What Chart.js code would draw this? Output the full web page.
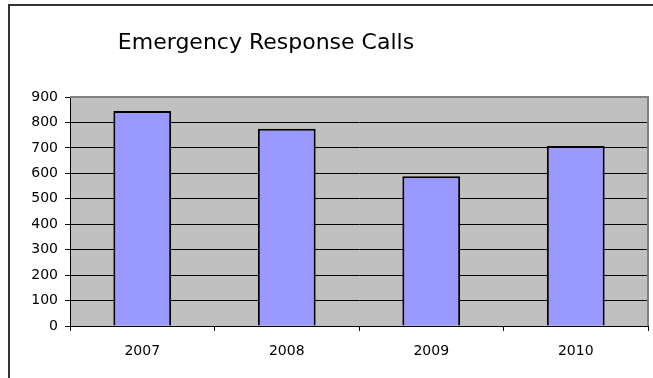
<!DOCTYPE html>
<html>
<head>
<meta charset="utf-8">
<script src="https://cdn.jsdelivr.net/npm/chart.js@4/dist/chart.umd.min.js"></script>
<style>
    html, body { margin: 0; padding: 0; background: #fff; }
    #wrap { width: 653px; height: 378px; position: relative; }
</style>
</head>
<body>
<div id="wrap"><canvas id="chart"></canvas></div>
<script>
// Chart data
const chartTitle = 'Emergency Response Calls';
const years = ['2007', '2008', '2009', '2010'];
const calls = [845, 775, 589, 707];
const yTicks = [0, 100, 200, 300, 400, 500, 600, 700, 800, 900];

const fontFamily = '"DejaVu Sans", "Liberation Sans", Arial, sans-serif';

// Grey plot area, its border, the outer frame and the title
const excelFrame = {
    id: 'excelFrame',
    beforeDraw(chart) {
        const { ctx, chartArea: a } = chart;
        ctx.save();
        ctx.fillStyle = '#c0c0c0';
        ctx.fillRect(a.left, a.top, a.right - a.left, a.bottom - a.top);
        ctx.restore();
    },
    afterDraw(chart) {
        const { ctx, chartArea: a } = chart;
        ctx.save();
        // plot area top / right border
        ctx.strokeStyle = '#808080';
        ctx.lineWidth = 2;
        ctx.beginPath();
        ctx.moveTo(a.left, a.top);
        ctx.lineTo(a.right, a.top);
        ctx.lineTo(a.right, a.bottom);
        ctx.stroke();
        // outer chart frame
        ctx.strokeStyle = '#333';
        ctx.lineWidth = 2;
        ctx.beginPath();
        ctx.moveTo(9, 378);
        ctx.lineTo(9, 5);
        ctx.lineTo(653, 5);
        ctx.stroke();
        // title
        ctx.fillStyle = '#000';
        ctx.font = '22px ' + fontFamily;
        ctx.textAlign = 'center';
        ctx.textBaseline = 'alphabetic';
        ctx.fillText(chartTitle, 266, 49);
        ctx.restore();
    }
};

const ctx = document.getElementById('chart').getContext('2d');
new Chart(ctx, {
    type: 'bar',
    data: {
        labels: years,
        datasets: [{
            label: 'Calls',
            data: calls,
            backgroundColor: '#9999ff',
            borderColor: '#000',
            borderWidth: 2,
            categoryPercentage: 0.8,
            barPercentage: 0.5
        }]
    },
    options: {
        responsive: true,
        maintainAspectRatio: false,
        animation: false,
        layout: {
            padding: { top: 97, left: 10, right: 5, bottom: 0 }
        },
        plugins: {
            legend: { display: false },
            title: { display: false },
            tooltip: { enabled: false }
        },
        scales: {
            x: {
                afterFit: (scale) => { scale.height = 52; },
                grid: {
                    offset: true,
                    drawOnChartArea: false,
                    drawTicks: true,
                    tickLength: 5,
                    color: '#000'
                },
                border: { color: '#000', width: 1 },
                ticks: {
                    color: '#000',
                    padding: 12,
                    font: { family: fontFamily, size: 14 }
                }
            },
            y: {
                min: 0,
                max: 900,
                afterFit: (scale) => { scale.width = 60; },
                afterBuildTicks: (scale) => {
                    scale.ticks = yTicks.map(v => ({ value: v }));
                },
                grid: {
                    color: '#000',
                    lineWidth: 1,
                    drawTicks: true,
                    tickLength: 5
                },
                border: { color: '#000', width: 1 },
                ticks: {
                    color: '#000',
                    padding: 7,
                    font: { family: fontFamily, size: 14 }
                }
            }
        }
    },
    plugins: [excelFrame]
});
</script>
</body>
</html>
